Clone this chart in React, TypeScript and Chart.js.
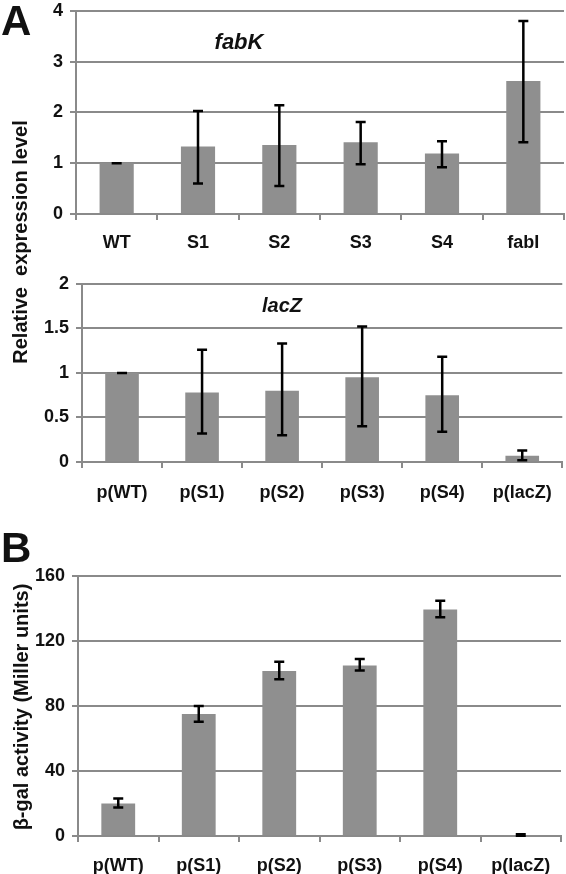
import React, { useEffect, useRef } from "react";
import { Chart, registerables } from "chart.js";

Chart.register(...registerables);

// ---------- data ----------
const fabKCategories = ["WT", "S1", "S2", "S3", "S4", "fabI"];
const fabKValues = [1.0, 1.33, 1.36, 1.41, 1.19, 2.62];
const fabKErrHigh = [1.0, 2.03, 2.14, 1.81, 1.43, 3.8];
const fabKErrLow = [1.0, 0.6, 0.55, 0.98, 0.92, 1.41];
const fabKTicks = [0, 1, 2, 3, 4];

const lacZCategories = ["p(WT)", "p(S1)", "p(S2)", "p(S3)", "p(S4)", "p(lacZ)"];
const lacZValues = [1.0, 0.78, 0.8, 0.95, 0.75, 0.07];
const lacZErrHigh = [1.0, 1.26, 1.33, 1.52, 1.18, 0.13];
const lacZErrLow = [1.0, 0.32, 0.3, 0.4, 0.34, 0.02];
const lacZTicks = [0, 0.5, 1, 1.5, 2];

const galCategories = ["p(WT)", "p(S1)", "p(S2)", "p(S3)", "p(S4)", "p(lacZ)"];
const galValues = [20, 75, 101.5, 104.8, 139.3, 0.5];
const galErrHigh = [23, 80, 107.2, 108.8, 144.7, 1.0];
const galErrLow = [17.5, 70.3, 96.4, 101.8, 134.5, 0.2];
const galTicks = [0, 40, 80, 120, 160];

const FONT = "'Liberation Sans', Arial, Helvetica, sans-serif";
const BAR = "#8f8f8f";
const GRID = "#8a8a8a";

const errorBarPlugin = {
  id: "errorBars",
  afterDatasetsDraw(chart: any, _args: any, opts: any) {
    const { ctx } = chart;
    const meta = chart.getDatasetMeta(0);
    const y = chart.scales.y;
    const hi: number[] = opts.hi;
    const lo: number[] = opts.lo;
    const cap = opts.cap ?? 5;
    ctx.save();
    ctx.strokeStyle = "#000";
    ctx.lineWidth = opts.lineWidth ?? 2.5;
    ctx.lineCap = "butt";
    meta.data.forEach((bar: any, i: number) => {
      const x = bar.x;
      const yh = y.getPixelForValue(hi[i]);
      const yl = y.getPixelForValue(lo[i]);
      ctx.beginPath();
      if (Math.abs(yh - yl) > 0.5) {
        ctx.moveTo(x, yh);
        ctx.lineTo(x, yl);
      }
      ctx.moveTo(x - cap, yh);
      ctx.lineTo(x + cap, yh);
      ctx.moveTo(x - cap, yl);
      ctx.lineTo(x + cap, yl);
      ctx.stroke();
    });
    ctx.restore();
  },
};

type PanelProps = {
  top: number;
  height: number;
  left: number;
  right: number;
  areaTop: number;
  areaBottom: number;
  labels: string[];
  values: number[];
  hi: number[];
  lo: number[];
  ticks: number[];
  labelPad: number;
};

const W = 566;
const PAD_TOP = 14;
const TICK_SIZE = 18;

function Panel(p: PanelProps) {
  const ref = useRef<HTMLCanvasElement | null>(null);
  useEffect(() => {
    if (!ref.current) return;
    const areaTopC = p.areaTop - p.top;
    const areaBottomC = p.areaBottom - p.top;
    const xHeight = p.height - areaBottomC;
    const chart = new Chart(ref.current, {
      type: "bar",
      data: {
        labels: p.labels,
        datasets: [
          {
            data: p.values,
            backgroundColor: BAR,
            borderWidth: 0,
            categoryPercentage: 1,
            barPercentage: 0.42,
          },
        ],
      },
      plugins: [errorBarPlugin],
      options: {
        responsive: false,
        animation: false,
        devicePixelRatio: 1,
        layout: {
          padding: { top: areaTopC, right: W - p.right, bottom: 0, left: 0 },
        },
        plugins: {
          legend: { display: false },
          tooltip: { enabled: false },
          title: { display: false },
          errorBars: { hi: p.hi, lo: p.lo, cap: 5, lineWidth: 2.5 },
        } as any,
        scales: {
          x: {
            offset: true,
            grid: {
              offset: true,
              drawOnChartArea: false,
              drawTicks: true,
              tickLength: 6,
              color: GRID,
              lineWidth: 2,
            },
            border: { display: true, color: GRID, width: 2 },
            ticks: {
              color: "#111",
              font: { family: FONT, size: TICK_SIZE, weight: "bold" },
              padding: p.labelPad,
              maxRotation: 0,
              autoSkip: false,
            },
            afterFit: (scale: any) => {
              scale.height = xHeight;
            },
          },
          y: {
            min: p.ticks[0],
            max: p.ticks[p.ticks.length - 1],
            afterBuildTicks: (scale: any) => {
              scale.ticks = p.ticks.map((v) => ({ value: v }));
            },
            grid: {
              drawOnChartArea: true,
              drawTicks: true,
              tickLength: 6,
              color: GRID,
              lineWidth: 2,
            },
            border: { display: true, color: GRID, width: 2 },
            ticks: {
              color: "#111",
              font: { family: FONT, size: TICK_SIZE, weight: "bold" },
              padding: 7,
              callback: (v: any) => String(+v),
            },
            afterFit: (scale: any) => {
              scale.width = p.left;
            },
          },
        },
      } as any,
    });
    return () => chart.destroy();
  }, []);
  return (
    <canvas
      ref={ref}
      width={W}
      height={p.height}
      style={{ position: "absolute", left: 0, top: p.top, width: W, height: p.height }}
    />
  );
}

const textBase: React.CSSProperties = {
  position: "absolute",
  fontFamily: FONT,
  fontWeight: "bold",
  color: "#111",
  whiteSpace: "nowrap",
  lineHeight: 1,
};

export default function App() {
  return (
    <div
      style={{
        position: "absolute",
        left: 0,
        top: 0,
        width: W,
        height: 874,
        background: "#fff",
        overflow: "hidden",
      }}
    >
      <Panel
        top={7 - PAD_TOP}
        height={260}
        left={76}
        right={564}
        areaTop={7}
        areaBottom={214}
        labels={fabKCategories}
        values={fabKValues}
        hi={fabKErrHigh}
        lo={fabKErrLow}
        ticks={fabKTicks}
        labelPad={12}
      />
      <Panel
        top={280 - PAD_TOP}
        height={240}
        left={82}
        right={563}
        areaTop={280}
        areaBottom={462}
        labels={lacZCategories}
        values={lacZValues}
        hi={lacZErrHigh}
        lo={lacZErrLow}
        ticks={lacZTicks}
        labelPad={14}
      />
      <Panel
        top={572 - PAD_TOP}
        height={316}
        left={78}
        right={561}
        areaTop={572}
        areaBottom={836}
        labels={galCategories}
        values={galValues}
        hi={galErrHigh}
        lo={galErrLow}
        ticks={galTicks}
        labelPad={13}
      />
      <div style={{ ...textBase, left: 1, top: 0, fontSize: 42 }}>A</div>
      <div style={{ ...textBase, left: 1, top: 527, fontSize: 42 }}>B</div>
      <div
        style={{
          ...textBase,
          left: 239,
          top: 42,
          fontSize: 22,
          fontStyle: "italic",
          transform: "translate(-50%, -50%)",
        }}
      >
        fabK
      </div>
      <div
        style={{
          ...textBase,
          left: 282,
          top: 305,
          fontSize: 20,
          fontStyle: "italic",
          transform: "translate(-50%, -50%)",
        }}
      >
        lacZ
      </div>
      <div
        style={{
          ...textBase,
          left: 20,
          top: 242,
          fontSize: 20,
          whiteSpace: "pre",
          transform: "translate(-50%, -50%) rotate(-90deg)",
        }}
      >
        {"Relative  expression level"}
      </div>
      <div
        style={{
          ...textBase,
          left: 21,
          top: 707,
          fontSize: 20,
          transform: "translate(-50%, -50%) rotate(-90deg)",
        }}
      >
        β-gal activity (Miller units)
      </div>
    </div>
  );
}
